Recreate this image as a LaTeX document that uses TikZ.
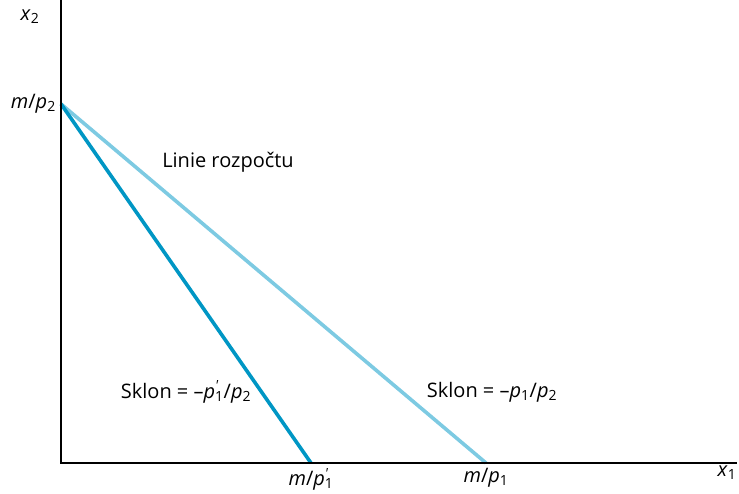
\documentclass[tikz,border=0pt]{standalone}
\usepackage{fontspec}
\setmainfont{Open Sans}
\usepackage{xcolor}
\usetikzlibrary{positioning,calc}
\definecolor{lightline}{RGB}{125,202,226}
\definecolor{darkline}{RGB}{0,150,196}
\newcommand{\vv}[1]{\textit{#1}}
\newcommand{\pone}{\vv{p}\rlap{\textsuperscript{\textit{\textquotesingle}}}\textsubscript{1}}
\tikzset{
    axis/.style={line width=2.6pt, black},
    budget/.style={line width=3.6pt, lightline},
    newbudget/.style={line width=3.6pt, darkline},
    lbl/.style={font=\fontsize{20}{24}\selectfont, inner sep=1pt}
}
\begin{document}
\begin{tikzpicture}[x=1pt,y=1pt]
\useasboundingbox (0,0) rectangle (739,493);

% Points
\coordinate (O) at (61,30);
\coordinate (ytop) at (61,493);
\coordinate (xend) at (737,30);
\coordinate (A) at (61,389);
\coordinate (B) at (486,30);
\coordinate (C) at (311,30);

% Lines
\draw[budget] (A) -- (B);
\draw[newbudget] (A) -- (C);
\draw[axis] (ytop) -- (O) -- (xend);

% Labels
\node[lbl] (x2) at (30,476) {\vv{x}\textsubscript{2}};
\node[lbl] (x1) at (727,20) {\vv{x}\textsubscript{1}};
\node[lbl, left=4pt of A] (mp2) {\vv{m}/\vv{p}\textsubscript{2}};
\node[lbl, below=4pt of C] (mp1n) {\vv{m}/\pone};
\node[lbl, below=4pt of B] (mp1) {\vv{m}/\vv{p}\textsubscript{1}};
\node[lbl] (linie) at (228,331) {Linie rozpočtu};
\node[lbl] (sklon1) at (186,101) {Sklon = –\pone/\vv{p}\textsubscript{2}};
\node[lbl] (sklon2) at (492,101) {Sklon = –\vv{p}\textsubscript{1}/\vv{p}\textsubscript{2}};

\end{tikzpicture}
\end{document}
